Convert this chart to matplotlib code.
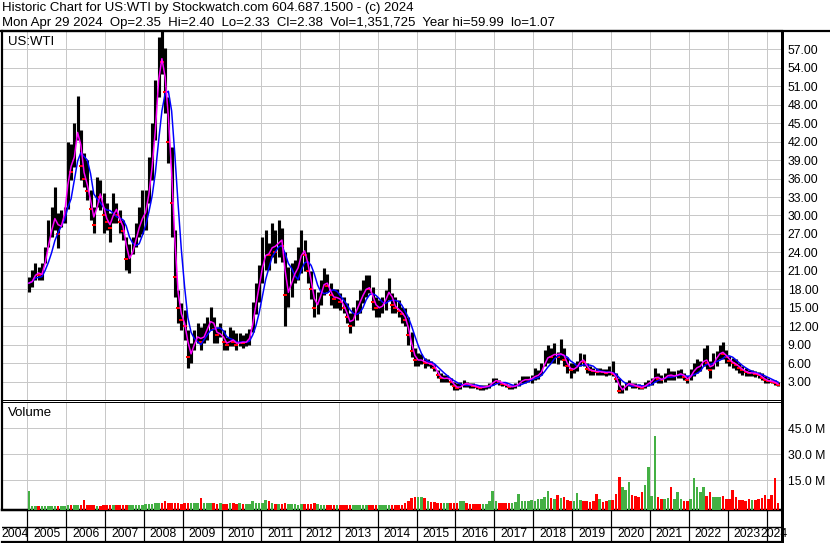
import numpy as np
import pandas as pd
import matplotlib
matplotlib.use("Agg")
import matplotlib.pyplot as plt
from matplotlib.lines import Line2D

plt.rcParams['font.family'] = ['Liberation Sans', 'DejaVu Sans']

# ---------------- data (monthly, Jan 2005 .. Apr 2024) ----------------
start_year = 2005
close = [
    19.0, 19.5, 21.0, 20.3, 20.5, 24.0, 26.0, 29.0, 30.0, 27.0, 29.5, 31.0,   # 2005
    39.0, 37.0, 42.0, 45.0, 38.0, 36.0, 34.0, 31.0, 28.5, 34.0, 33.0, 30.0,   # 2006
    29.0, 28.0, 32.0, 30.0, 29.0, 27.5, 23.0, 23.0, 25.0, 27.0, 29.0, 30.0,   # 2007
    31.0, 36.0, 40.0, 48.0, 56.0, 55.0, 50.0, 42.0, 32.0, 20.0, 15.0, 13.0,   # 2008
    12.0, 7.0, 8.0, 10.0, 10.5, 9.5, 11.0, 12.0, 13.5, 11.5, 10.5, 11.0,      # 2009
    9.5, 9.0, 10.0, 9.5, 9.0, 9.5, 9.3, 9.5, 10.5, 14.0, 17.0, 20.0,          # 2010
    23.0, 24.0, 23.5, 26.0, 24.0, 27.0, 25.0, 17.0, 18.0, 20.0, 21.0, 22.0,   # 2011
    25.0, 23.5, 21.0, 18.0, 15.0, 16.0, 18.0, 19.5, 18.5, 17.0, 16.5, 16.8,   # 2012
    16.0, 15.0, 13.5, 12.0, 14.0, 15.0, 16.5, 17.5, 18.5, 18.0, 16.0, 15.0,   # 2013
    15.0, 15.5, 17.0, 18.0, 15.5, 15.0, 14.5, 14.0, 13.0, 10.5, 8.0, 6.5,     # 2014
    6.5, 6.5, 6.0, 6.0, 5.8, 5.2, 4.0, 3.5, 3.5, 3.6, 3.0, 2.2,               # 2015
    2.0, 2.2, 2.8, 2.6, 2.4, 2.3, 2.1, 2.0, 2.1, 2.2, 2.4, 3.1,               # 2016
    3.2, 2.9, 2.6, 2.4, 2.1, 2.2, 2.3, 2.8, 3.3, 3.3, 3.3, 3.6,               # 2017
    4.0, 4.0, 5.0, 6.5, 7.2, 7.0, 7.8, 7.0, 8.0, 6.5, 5.5, 4.8,               # 2018
    5.2, 5.5, 6.8, 6.2, 5.0, 4.8, 4.7, 4.6, 4.6, 4.5, 4.4, 4.6,               # 2019
    4.2, 3.4, 1.5, 1.8, 2.6, 2.7, 2.4, 2.3, 2.1, 2.0, 2.5, 2.8,               # 2020
    3.2, 4.0, 3.4, 3.3, 3.7, 4.2, 3.9, 3.9, 4.2, 4.3, 3.7, 3.2,               # 2021
    4.3, 5.0, 5.5, 5.5, 7.0, 6.0, 4.8, 6.5, 7.0, 8.0, 7.5, 7.0,               # 2022
    6.3, 6.0, 5.7, 5.2, 4.8, 4.5, 4.4, 4.4, 4.3, 4.0, 3.6, 3.2,               # 2023
    3.1, 3.0, 2.8, 2.38,                                                      # 2024
]
high = [
    20.0, 21.1, 22.3, 21.6, 22.3, 24.9, 29.3, 31.4, 34.7, 30.4, 30.9, 31.4,
    42.0, 41.7, 45.0, 49.4, 43.9, 40.1, 39.0, 34.1, 31.4, 36.3, 35.7, 33.6,
    32.0, 30.4, 33.6, 32.0, 30.9, 29.3, 26.5, 25.4, 26.5, 28.7, 31.4, 34.1,
    34.1, 39.5, 45.0, 52.0, 59.0, 59.99, 57.3, 49.2, 41.1, 27.6, 17.9, 15.7,
    14.7, 11.4, 9.3, 11.4, 12.5, 11.9, 12.5, 13.5, 15.2, 13.5, 11.9, 12.5,
    11.4, 10.3, 11.9, 11.4, 10.9, 10.9, 10.5, 10.9, 11.5, 16.0, 19.0, 22.0,
    26.5, 27.6, 25.5, 28.7, 27.6, 29.3, 28.0, 24.0, 21.6, 22.2, 22.8, 24.9,
    27.6, 26.0, 24.0, 21.0, 18.0, 17.5, 19.5, 21.4, 20.5, 19.0, 18.0, 18.0,
    17.4, 16.8, 15.7, 14.1, 15.2, 16.3, 17.9, 19.5, 20.3, 20.3, 18.4, 16.8,
    16.3, 16.8, 17.9, 19.8, 17.4, 16.8, 16.3, 15.2, 15.0, 13.5, 11.0, 8.5,
    7.6, 7.4, 6.8, 6.6, 6.3, 5.8, 4.9, 4.4, 4.1, 4.1, 3.6, 3.0,
    2.8, 2.9, 3.3, 3.0, 2.8, 2.7, 2.5, 2.5, 2.5, 2.5, 2.8, 3.6,
    3.6, 3.3, 3.0, 2.8, 2.5, 2.5, 2.8, 3.3, 3.9, 3.9, 3.9, 4.1,
    5.2, 4.8, 6.0, 8.2, 9.0, 8.5, 9.3, 7.8, 9.9, 8.5, 7.0, 6.0,
    6.0, 6.3, 7.6, 7.4, 6.0, 5.5, 5.2, 5.2, 5.2, 5.0, 5.0, 5.5,
    6.3, 4.4, 3.5, 2.5, 3.0, 3.3, 2.8, 2.8, 2.6, 2.5, 3.0, 3.3,
    3.6, 5.2, 4.4, 4.1, 4.4, 5.2, 4.7, 4.7, 4.9, 5.0, 4.4, 3.9,
    5.0, 6.0, 6.6, 6.3, 8.5, 9.0, 6.3, 7.6, 7.9, 9.0, 9.4, 8.2,
    7.1, 6.8, 6.6, 6.0, 5.5, 5.2, 4.9, 4.9, 4.7, 4.5, 4.4, 3.9,
    3.6, 3.3, 3.2, 2.9,
]
low = [
    17.6, 18.4, 19.5, 19.5, 19.5, 22.3, 24.9, 26.5, 27.6, 24.7, 28.1, 28.7,
    31.0, 35.7, 37.9, 42.2, 35.7, 34.6, 32.5, 29.3, 27.1, 31.4, 30.9, 27.1,
    27.6, 25.7, 28.7, 28.7, 27.1, 26.0, 21.1, 20.6, 23.8, 24.9, 26.5, 27.0,
    27.6, 32.0, 35.7, 42.2, 49.2, 53.0, 46.6, 38.5, 26.5, 16.8, 12.5, 11.4,
    9.8, 5.2, 6.0, 8.2, 9.3, 8.2, 9.3, 9.8, 11.4, 9.3, 9.3, 10.3,
    8.2, 8.2, 8.7, 8.7, 8.2, 8.7, 8.5, 8.7, 9.0, 11.0, 14.0, 16.0,
    19.0, 21.1, 21.1, 23.3, 22.2, 23.3, 22.5, 12.0, 15.2, 16.8, 19.0, 19.5,
    20.6, 21.0, 19.0, 16.5, 13.5, 14.0, 15.5, 17.0, 17.5, 15.5, 15.0, 15.0,
    14.7, 14.1, 12.5, 10.9, 12.0, 13.0, 14.1, 15.7, 16.8, 17.4, 14.7, 13.5,
    13.5, 14.1, 14.7, 16.3, 14.1, 14.1, 13.5, 12.5, 12.0, 9.0, 7.0, 5.5,
    5.5, 5.8, 5.2, 5.5, 5.2, 4.7, 3.6, 3.0, 3.0, 3.0, 2.5, 1.7,
    1.6, 1.8, 2.1, 2.1, 2.0, 1.9, 1.8, 1.7, 1.7, 1.8, 2.0, 2.5,
    2.8, 2.5, 2.2, 2.1, 1.8, 1.8, 2.0, 2.2, 2.8, 2.8, 2.9, 2.8,
    3.3, 3.4, 4.1, 5.5, 6.0, 6.0, 6.0, 5.8, 6.5, 5.5, 4.4, 3.6,
    4.4, 4.7, 5.5, 5.5, 4.4, 4.1, 4.1, 4.1, 4.1, 4.0, 3.9, 4.0,
    3.9, 3.0, 1.07, 1.1, 1.6, 2.2, 2.0, 2.0, 1.8, 1.8, 2.0, 2.3,
    2.5, 3.0, 2.8, 2.8, 3.0, 3.3, 3.3, 3.3, 3.5, 3.6, 3.3, 2.8,
    3.3, 3.9, 4.4, 4.7, 5.5, 5.0, 3.6, 5.0, 5.5, 6.6, 6.6, 6.0,
    5.5, 5.2, 4.9, 4.4, 4.1, 3.9, 3.9, 3.9, 3.8, 3.6, 3.3, 2.8,
    2.8, 2.7, 2.5, 2.3,
]
volume_m = [
    8.7, 0.3, 0.3, 0.3, 0.3, 0.2, 0.3, 0.3, 0.3, 0.3, 0.3, 0.3,
    0.8, 0.8, 0.8, 0.5, 0.5, 3.5, 0.5, 0.5, 0.5, 0.3, 0.3, 0.5,
    0.5, 0.8, 0.5, 0.5, 0.5, 0.5, 0.8, 0.8, 0.5, 0.5, 0.5, 0.8,
    1.0, 1.0, 1.2, 1.5, 1.5, 2.0, 2.7, 2.0, 1.5, 2.0, 1.5, 1.0,
    1.5, 1.5, 2.0, 1.5, 1.5, 4.6, 1.5, 1.5, 1.5, 1.5, 1.2, 1.5,
    1.0, 1.0, 1.5, 1.5, 1.0, 1.5, 1.0, 1.0, 1.0, 2.7, 1.5, 1.5,
    1.5, 3.7, 2.7, 1.5, 1.2, 1.0, 1.0, 1.5, 1.0, 1.0, 1.0, 0.8,
    1.0, 1.0, 1.2, 1.0, 1.5, 1.0, 0.8, 0.8, 0.8, 0.8, 0.5, 0.5,
    0.5, 0.5, 0.8, 0.8, 0.5, 0.5, 0.5, 0.8, 0.5, 0.5, 0.8, 0.5,
    0.8, 0.8, 0.8, 0.8, 0.5, 0.5, 0.5, 0.8, 1.5, 3.0, 4.4, 5.4,
    5.4, 5.0, 4.5, 3.0, 2.5, 2.5, 2.0, 2.0, 2.0, 1.5, 1.5, 1.5,
    1.5, 2.8, 2.8, 2.0, 1.2, 1.2, 1.0, 1.0, 1.0, 1.2, 3.0, 8.7,
    3.0, 2.0, 2.0, 1.5, 1.5, 2.0, 2.5, 6.7, 3.0, 3.0, 3.0, 3.5,
    3.0, 4.0, 4.0, 5.0, 8.7, 4.5, 4.0, 6.3, 4.5, 5.0, 3.5, 3.0,
    3.0, 7.7, 3.5, 3.0, 3.0, 2.5, 3.0, 7.0, 4.0, 2.5, 3.0, 3.5,
    3.5, 7.0, 16.9, 11.0, 9.0, 13.7, 6.3, 6.0, 5.0, 8.0, 12.0, 22.7,
    6.0, 40.6, 5.0, 4.0, 4.0, 4.5, 11.2, 4.0, 8.3, 4.0, 3.0, 3.0,
    4.0, 16.3, 11.0, 8.0, 11.0, 6.0, 8.3, 5.0, 5.0, 5.0, 5.5, 4.0,
    4.0, 9.2, 5.0, 3.5, 3.5, 3.0, 4.0, 3.5, 3.5, 4.0, 4.5, 6.3,
    4.0, 6.3, 16.3, 2.0,
]
years = list(range(2004, 2025))
price_ticks = list(range(3, 58, 3))
volume_ticks = [15, 30, 45]
header1 = "Historic Chart for US:WTI by Stockwatch.com 604.687.1500 - (c) 2024"
header2 = ("Mon Apr 29 2024  Op=2.35  Hi=2.40  Lo=2.33  Cl=2.38  "
           "Vol=1,351,725  Year hi=59.99  lo=1.07")

# ---------------- layout ----------------
W, H = 830, 543
def rect(x0, y0, x1, y1):
    return [x0 / W, 1 - y1 / H, (x1 - x0) / W, (y1 - y0) / H]

XL, XR = 2004.350, 2024.378
GRID = '#c8c8c8'
FS = 8.7
FS_HEAD = 9.5
px = 0.72  # points per pixel at dpi 100

fig = plt.figure(figsize=(W / 100, H / 100), dpi=100)

n = len(close)
t = start_year + (np.arange(n) + 0.5) / 12.0
c = pd.Series(close)
ma_short = c.rolling(2, min_periods=1).mean()
ma_long = c.rolling(5, min_periods=1).mean()
prev = c.shift(1).fillna(c.iloc[0] - 1)
up = (c >= prev).values

# price panel
ax = fig.add_axes(rect(2, 31, 781.5, 400))
ax.set_xlim(XL, XR)
ax.set_ylim(0, 59.99)
ax.set_yticks(price_ticks)
ax.set_yticklabels([f"{v:.2f}" for v in price_ticks])
ax.set_xticks(years[1:])
ax.yaxis.tick_right()
ax.tick_params(axis='y', length=0, pad=4.5, labelsize=FS, labelright=True, labelleft=False)
ax.tick_params(axis='x', length=0, labelbottom=False)
ax.grid(True, color=GRID, lw=1.0 * px)
ax.set_axisbelow(True)
for s, lw in (('left', 2.2), ('top', 2.2), ('right', 3.0), ('bottom', 1.0)):
    ax.spines[s].set_linewidth(lw * px)
ax.vlines(t, low, high, color='black', lw=3.1 * px, zorder=3)
down = ~up
ax.plot(t[down], np.array(close)[down], ls='none', marker='_', color='red',
        ms=3, mew=2 * px, zorder=4)
ax.plot(t, ma_long, color='#0000ff', lw=1.5 * px, zorder=5)
ax.plot(t, ma_short, color='#ff00ff', lw=1.5 * px, zorder=6)

# volume panel
VMIN, VMAX = -2.0, 60.0
axv = fig.add_axes(rect(2, 402, 781.5, 509.5))
axv.set_xlim(XL, XR)
axv.set_ylim(VMIN, VMAX)
axv.set_yticks(volume_ticks)
axv.set_yticklabels([f"{v:.1f} M" for v in volume_ticks])
axv.set_xticks(years[1:])
axv.yaxis.tick_right()
axv.tick_params(axis='y', length=0, pad=4.5, labelsize=FS, labelright=True, labelleft=False)
axv.tick_params(axis='x', length=0, labelbottom=False)
axv.grid(True, color=GRID, lw=1.0 * px)
axv.set_axisbelow(True)
for s, lw in (('left', 2.2), ('top', 1.0), ('right', 3.0), ('bottom', 2.5)):
    axv.spines[s].set_linewidth(lw * px)
vcol = np.where(up, '#44b044', '#ff0000')
vol = np.array(volume_m)
axv.bar(t, vol - VMIN, bottom=VMIN, width=0.8 / 12, color=vcol, lw=0, zorder=3)

# date strip
axd = fig.add_axes(rect(2, 509.5, 781.5, 542))
axd.set_xlim(XL, XR)
axd.set_ylim(0, 1)
axd.set_xticks([]); axd.set_yticks([])
axd.patch.set_alpha(0)
axd.spines['left'].set_visible(False)
axd.spines['top'].set_visible(False)
axd.spines['right'].set_linewidth(3.0 * px)
axd.spines['bottom'].set_linewidth(2.2 * px)
axd.vlines(years[1:], 0, 1, color='black', lw=1.2 * px)
axd.axhline(0.47, color='black', lw=1.4 * px)
for y in years:
    lo_ = max(y, XL)
    hi_ = min(y + 1, XR)
    axd.text((lo_ + hi_) / 2, 0.24, str(y), ha='center', va='center', fontsize=FS,
             clip_on=False)

# header + labels
fig.add_artist(Line2D([0, 1], [1 - 31 / H, 1 - 31 / H], color='black', lw=2.2 * px,
                      transform=fig.transFigure))
fig.text(2 / W, 1 - 8.5 / H, header1, ha='left', va='center', fontsize=FS_HEAD)
fig.text(2 / W, 1 - 23 / H, header2, ha='left', va='center', fontsize=FS_HEAD)
fig.text(8 / W, 1 - 42 / H, "US:WTI", ha='left', va='center', fontsize=FS_HEAD)
fig.text(8 / W, 1 - 413 / H, "Volume", ha='left', va='center', fontsize=FS_HEAD)

fig.savefig("out.png", dpi=100)
